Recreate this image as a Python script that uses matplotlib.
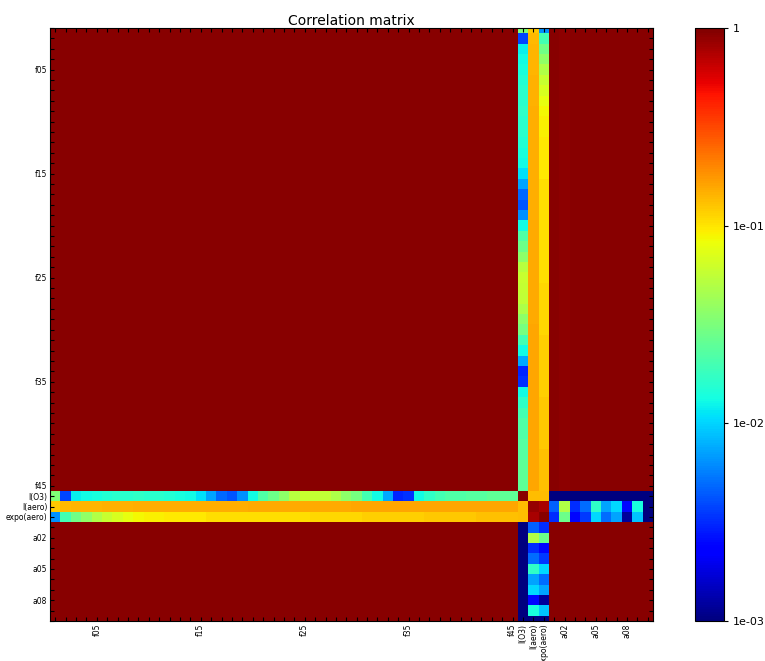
import numpy as np
import matplotlib
matplotlib.use('Agg')
import matplotlib.pyplot as plt
from matplotlib.colors import LogNorm

# parameter names
f_names = ['f%02d' % i for i in range(1, 46)]
l_names = ['l(O3)', 'l(aero)', 'expo(aero)']
a_names = ['a%02d' % i for i in range(1, 11)]
names = f_names + l_names + a_names

# |correlation| of l(O3) with f01..f45
lo3_f = [0.033, 0.0038, 0.012, 0.013, 0.014, 0.015, 0.016, 0.016, 0.017, 0.016,
         0.016, 0.015, 0.014, 0.013, 0.011, 0.0072, 0.0048, 0.0042, 0.0063, 0.013,
         0.022, 0.028, 0.037, 0.052, 0.060, 0.058, 0.056, 0.048, 0.037, 0.030,
         0.0195, 0.013, 0.0075, 0.0031, 0.0033, 0.013, 0.017, 0.0195, 0.022, 0.022,
         0.023, 0.023, 0.025, 0.025, 0.025]
# |correlation| of l(aero) with f01..f45
laero_f = [0.125, 0.138, 0.140, 0.142, 0.142, 0.145, 0.145, 0.147, 0.148, 0.148,
           0.150, 0.150, 0.150, 0.150, 0.150, 0.150, 0.150, 0.151, 0.151, 0.152,
           0.152, 0.153, 0.153, 0.154, 0.154, 0.155, 0.155, 0.155, 0.155, 0.156,
           0.156, 0.156, 0.157, 0.157, 0.157, 0.157, 0.158, 0.158, 0.158, 0.158,
           0.158, 0.158, 0.158, 0.158, 0.157]
# |correlation| of expo(aero) with f01..f45
expo_f = [0.0063, 0.0195, 0.0286, 0.0375, 0.049, 0.060, 0.069, 0.079, 0.088, 0.092,
          0.092, 0.098, 0.098, 0.098, 0.098, 0.104, 0.104, 0.104, 0.104, 0.104,
          0.104, 0.104, 0.104, 0.104, 0.104, 0.110, 0.110, 0.110, 0.110, 0.110,
          0.117, 0.117, 0.117, 0.117, 0.117, 0.117, 0.125, 0.125, 0.125, 0.125,
          0.125, 0.132, 0.132, 0.132, 0.132]
# block between l(O3), l(aero), expo(aero)
l_block = [[0.93, 0.135, 0.133],
           [0.135, 0.87, 0.78],
           [0.133, 0.78, 0.93]]
# |correlation| of l(O3), l(aero), expo(aero) with a01..a10
lo3_a = [0.0008] * 10
laero_a = [0.0046, 0.049, 0.0032, 0.0050, 0.017, 0.0072, 0.0102, 0.0025, 0.0138, 0.0008]
expo_a = [0.0032, 0.028, 0.0025, 0.0035, 0.0102, 0.0050, 0.0072, 0.0012, 0.0091, 0.0008]
# f and a parameters read as (nearly) fully correlated, a02 slightly less
fa_level = 0.93
a02_f = 0.91

n = len(names)
nf, nl = len(f_names), len(l_names)
C = np.full((n, n), fa_level)
C[nf:nf + nl, :nf] = [lo3_f, laero_f, expo_f]
C[nf:nf + nl, nf:nf + nl] = l_block
C[nf:nf + nl, nf + nl:] = [lo3_a, laero_a, expo_a]
C[:, nf:nf + nl] = C[nf:nf + nl, :].T
C[:nf, nf + nl + 1] = a02_f

fig = plt.figure(figsize=(7.65, 6.61), dpi=100)
ax = fig.add_axes([50 / 765, 40 / 661, 603 / 765, 593 / 661])
im = ax.imshow(C, cmap='jet', norm=LogNorm(vmin=1e-3, vmax=1), interpolation='nearest',
               aspect='auto')
ax.set_xlim(-0.5, n - 0.5)
ax.set_ylim(n - 1, 0)

shown = ['f05', 'f15', 'f25', 'f35', 'f45', 'l(O3)', 'l(aero)', 'expo(aero)', 'a02', 'a05', 'a08']
labels = [s if s in shown else '' for s in names]
ax.set_xticks(range(n))
ax.set_yticks(range(n))
ax.set_xticklabels(labels, rotation=90, fontsize=5.5)
ax.set_yticklabels(labels, fontsize=5.5)
ax.tick_params(direction='in', top=True, right=True, length=3, width=0.8, pad=2)
ax.set_title('Correlation matrix', fontsize=10, pad=2)

cax = fig.add_axes([695 / 765, 40 / 661, 29 / 765, 593 / 661])
cb = fig.colorbar(im, cax=cax)
cb.set_ticks([1, 1e-1, 1e-2, 1e-3])
cb.set_ticklabels(['1', '1e-01', '1e-02', '1e-03'])
cb.ax.minorticks_off()
cb.ax.tick_params(labelsize=8, length=3, pad=3)
cb.set_label('|Correlation|', fontsize=7, labelpad=28)

fig.savefig('out.png', dpi=100)
